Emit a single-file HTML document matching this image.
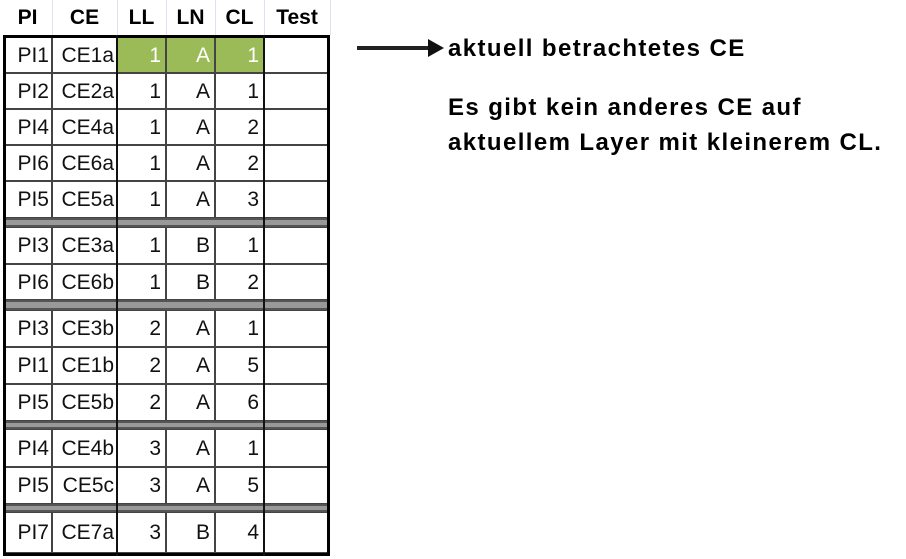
<!DOCTYPE html>
<html><head><meta charset="utf-8"><style>
body{margin:0;width:906px;height:559px;background:#fff;position:relative;overflow:hidden;font-family:"Liberation Sans",sans-serif}
.c{position:absolute;box-sizing:border-box;border:1px solid #444;font-size:21px;line-height:1;display:flex;align-items:center;color:#111}
.r{justify-content:flex-end;padding-right:4px}
.l{justify-content:flex-end;padding-right:2px}
.h{position:absolute;top:0;height:35px;font-weight:bold;font-size:21px;display:flex;align-items:center;justify-content:center;border-right:1px solid #dde4ee}
.sep{position:absolute;left:3px;width:327px;box-sizing:border-box;background:#999;border-top:2px solid #555;border-bottom:2px solid #555}
.g{background:#9bbb59;color:#fff}
.t{position:absolute;font-weight:bold;font-size:24px;color:#000;letter-spacing:1.4px}
</style></head><body>
<div class="h" style="left:3px;width:49px">PI</div>
<div class="h" style="left:52px;width:65px">CE</div>
<div class="h" style="left:117px;width:49px">LL</div>
<div class="h" style="left:166px;width:49px">LN</div>
<div class="h" style="left:215px;width:49px">CL</div>
<div class="h" style="left:264px;width:66px">Test</div>
<div id="tbl"></div>
<div style="position:absolute;left:3px;top:35px;width:327px;height:521px;box-sizing:border-box;border:3px solid #000"></div>
<div style="position:absolute;left:116px;top:35px;width:2px;height:521px;background:#111"></div>
<div style="position:absolute;left:263px;top:35px;width:2px;height:521px;background:#111"></div>
<div style="position:absolute;left:357px;top:46px;width:76px;height:4px;background:#222"></div>
<div style="position:absolute;left:428px;top:39px;width:0;height:0;border-top:9px solid transparent;border-bottom:9px solid transparent;border-left:16px solid #111"></div>
<div class="t" style="left:448px;top:35px">aktuell betrachtetes CE</div>
<div class="t" style="left:448px;top:94px">Es gibt kein anderes CE auf</div>
<div class="t" style="left:448px;top:129px">aktuellem Layer mit kleinerem CL.</div>
<script>
var rows=[["PI1","CE1a","1","A","1"],["PI2","CE2a","1","A","1"],["PI4","CE4a","1","A","2"],["PI6","CE6a","1","A","2"],["PI5","CE5a","1","A","3"],null,
["PI3","CE3a","1","B","1"],["PI6","CE6b","1","B","2"],null,
["PI3","CE3b","2","A","1"],["PI1","CE1b","2","A","5"],["PI5","CE5b","2","A","6"],null,
["PI4","CE4b","3","A","1"],["PI5"," CE5c","3","A","5"],null,["PI7","CE7a","3","B","4"]];
var tops=[37,73,109,145,181,218,227,264,300,310,347,384,421,429,467,504,512];
var ends=[73,109,145,181,218,227,264,300,310,347,384,421,429,467,504,512,553];
var xs=[3,52,117,166,215,264,330];
var h="";
rows.forEach(function(r,i){
 var t=tops[i],hh=ends[i]-t;
 if(!r){h+='<div class="sep" style="top:'+t+'px;height:'+hh+'px"></div>';return;}
 for(var k=0;k<6;k++){
  var cls="c "+(k<2?"l":"r")+(i==0&&k>=2&&k<=4?" g":"");
  h+='<div class="'+cls+'" style="left:'+xs[k]+'px;top:'+t+'px;width:'+(xs[k+1]-xs[k])+'px;height:'+hh+'px">'+(k<5?r[k].replace(" ","&nbsp;"):"")+'</div>';
 }
});
document.getElementById("tbl").innerHTML=h;
</script>
</body></html>
